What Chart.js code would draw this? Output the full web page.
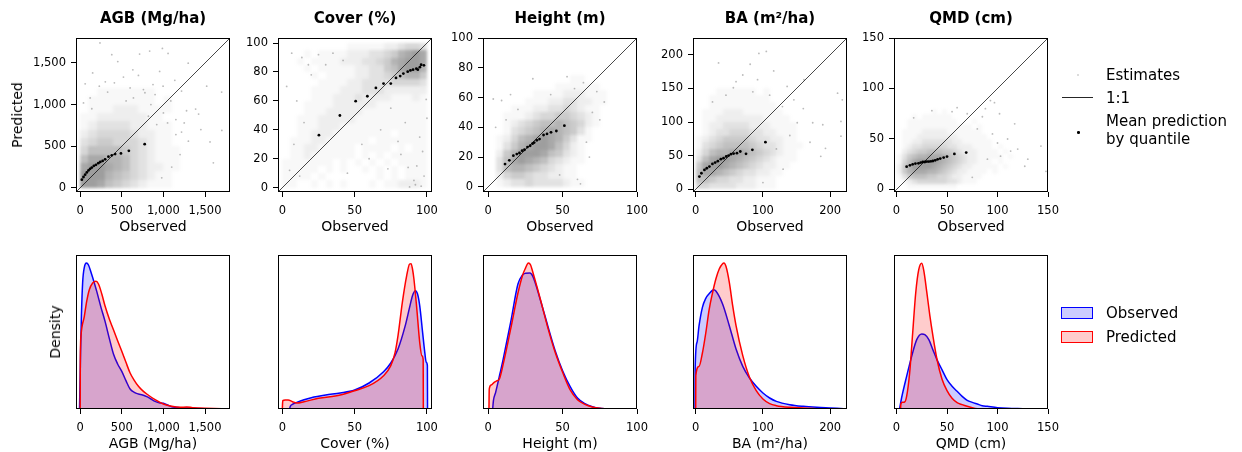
<!DOCTYPE html>
<html><head><meta charset="utf-8">
<script src="https://cdn.jsdelivr.net/npm/chart.js@4/dist/chart.umd.min.js"></script>
<style>
html,body{margin:0;padding:0;background:#fff;}
#wrap{position:relative;width:1242px;height:452px;overflow:hidden;font-family:"DejaVu Sans",sans-serif;color:#000;}
canvas{position:absolute;}
.c{position:absolute;white-space:nowrap;transform:translate(-50%,-50%);}
.l{position:absolute;white-space:nowrap;transform:translate(0,-50%);font-size:15px;}
.title{font-weight:bold;font-size:15px;}
.ax{font-size:14px;}
</style></head><body><div id="wrap"></div>
<script>
// ---------------- DATA ----------------
const VARIABLES = ['AGB (Mg/ha)','Cover (%)','Height (m)','BA (m²/ha)','QMD (cm)'];

// axis limits (observed = predicted range, 1:1 line spans them)
const AGB_LIM = [-50, 1800];
const COVER_LIM = [-3, 103.5];
const HEIGHT_LIM = [-3.5, 100];
const BA_LIM = [-4, 225];
const QMD_LIM = [-2.5, 150];

// tick labels
const AGB_TICKS = [0, 500, 1000, 1500];
const COVER_XTICKS = [0, 50, 100];
const COVER_YTICKS = [0, 20, 40, 60, 80, 100];
const HEIGHT_XTICKS = [0, 50, 100];
const HEIGHT_YTICKS = [0, 20, 40, 60, 80, 100];
const BA_XTICKS = [0, 100, 200];
const BA_YTICKS = [0, 50, 100, 150, 200];
const QMD_TICKS = [0, 50, 100, 150];

// mean prediction by quantile (observed, predicted)
const AGB_MEAN_OBS  = [20,40,60,80,100,120,140,165,190,218,242,270,300,340,380,420,490,585,775];
const AGB_MEAN_PRED = [98,130,158,185,209,229,244,264,276,296,311,323,343,374,390,406,414,445,524];
const COVER_MEAN_OBS  = [25.3,39.8,50.7,58.8,64.7,70,75,78.6,81.5,83.7,86.7,88.6,90.4,92.7,93.7,95.1,96,97.9];
const COVER_MEAN_PRED = [36.3,49.9,59.8,63.2,69,72,72,75.9,77.2,78.9,80.2,81.1,81.6,82.3,81.6,83.3,85,84.6];
const HEIGHT_MEAN_OBS  = [11.3,14.2,16.9,19.2,21,22.8,24.4,26.4,28.2,29.8,30.9,32.7,34.5,37.2,39.5,42.2,45.8,51.2];
const HEIGHT_MEAN_PRED = [15.3,17.8,20.9,22,22.7,24.3,24.9,26.7,27.6,29,29.7,31.2,32.1,34.8,35.5,36.6,37.5,41.1];
const BA_MEAN_OBS  = [5.5,8.5,13,16.5,20.4,24.9,28.9,32.9,37.4,41.4,45.4,48.9,52.4,56.4,61.3,66.3,74.8,84.3,103.7];
const BA_MEAN_PRED = [18.9,23.9,28.9,31.3,33.8,37.8,39.8,41.8,44.8,46.3,48.8,50.2,52.2,53.2,53.7,56.2,52.7,58.7,70.1];
const QMD_MEAN_OBS  = [10,13.3,16,18.7,21.7,24,26,28,30,32,34,36,38.3,40.7,43.3,46.7,50,57.3,69];
const QMD_MEAN_PRED = [22.6,23.9,24.9,25.6,25.9,26.6,27.2,27.2,27.6,27.6,27.9,28.2,28.9,29.9,30.6,31.6,32.6,35.2,36.5];

// isolated estimates visible outside the dense cloud [observed, predicted]
const AGB_SPARSE = [[238,1741],[411,1261],[302,1273],[714,1607],[835,1643],[988,1675],[1056,1615],[1298,1497],[996,1221],[1218,1162],[1387,946],[1560,552],[1702,690],[1137,1292],[633,1418],[552,1044],[875,1241],[230,1221],[452,1517],[1423,886],[1218,670],[1520,1221],[955,1399],[778,1142],[1089,1044],[1278,926],[60,1250],[150,1380],[380,1600],[700,1350],[1150,820],[1000,900],[920,760],[1300,560],[1450,700],[1700,1150],[1600,300],[1200,400],[980,120],[1100,250],[850,1000],[600,1200],[120,1080],[330,1150],[520,1330],[760,1180],[640,1080],[900,1120],[1050,780],[1150,640],[1250,780],[820,860],[140,950],[40,1020]];
const COVER_SPARSE = [[6.5,93],[13.5,90],[80,32],[87,14],[91,5],[73,13],[82,23],[100,48],[99.5,61],[3,70],[10,60],[20,78],[30,85],[15,45],[8,30],[60,20],[45,10],[95,35],[97,25],[92,2],[96,1],[88,0.5],[25,92],[35,93],[18,85],[42,88],[5,12],[12,8],[55,30],[68,40],[75,55],[85,45],[93,15],[98,8]];
const HEIGHT_SPARSE = [[30,72.6],[53,74],[64,70],[78,57],[73,64],[15,62],[9,58],[3.4,59],[70,50],[75,45],[5,40],[60,5],[62,2],[48,8],[68,20],[42,62],[58,66],[20,52],[12,45],[66,30]];
const BA_SPARSE = [[34,188],[105,205],[94,202],[81,186],[116,176],[92,163],[56,151],[136,153],[161,163],[211,143],[218,133],[189,96],[216,79],[174,99],[151,99],[193,61],[186,49],[216,101],[129,123],[146,133],[70,170],[45,140],[120,60],[140,80],[160,120],[100,10],[130,30],[60,160],[85,145],[110,140],[25,130],[170,70]];
const QMD_SPARSE = [[93,88],[97,86],[88,80],[102,75],[117,65],[110,50],[100,46],[127,23],[143,43],[148,18],[60,81],[35,78],[17,71],[103,33],[113,38],[80,60],[90,30],[120,40],[75,12],[85,72],[70,75],[55,77],[95,55],[130,30]];

// density of estimates (0-9), rows from top (highest predicted) to bottom
const AGB_CLOUD = [ // cells of 100 x 100, from 0
 "0011111110000",
 "0111111110100",
 "0111222111100",
 "1122222211000",
 "1233332211100",
 "2344443221100",
 "3455444321100",
 "4666654321110",
 "6887764321110",
 "8998764322110",
 "9997654321100",
 "9986543211100"];
const COVER_CLOUD = [ // cells of 5 x 5, from 0
 "00000000011111223443",
 "00010111122233457898",
 "00101111222334578998",
 "00010111112233568997",
 "00001011112233456775",
 "00000111122333344443",
 "00001111222333222222",
 "00001112223222211121",
 "00011112222221111111",
 "00011122222111111111",
 "00111222221111111111",
 "00111222111111111111",
 "00112221111111101111",
 "01112211111101111111",
 "01122111110111101011",
 "01121111110101011111",
 "11111110101010101111",
 "11111010100101010111",
 "11110100000001010111",
 "11001010100010112221"];
const HEIGHT_CLOUD = [ // cells of 5 x 5, from 0
 "0000000000011000",
 "0000000001111110",
 "0000001111222111",
 "0000011122332211",
 "0001112233432110",
 "0011123445543210",
 "0012345667654210",
 "0013456787653100",
 "0124678987531100",
 "0135789986421000",
 "0257999865321000",
 "0368987643211000",
 "0367765432110000",
 "0245543322110000",
 "0123343333211000"];
const BA_CLOUD = [ // cells of 10 x 10, from 0
 "0001111110100000",
 "0011111111100000",
 "0011111111110000",
 "0111222111111000",
 "0112222222111100",
 "0122333322211110",
 "0123344433221110",
 "1234555543322110",
 "1345666654332111",
 "2467788765432110",
 "3689987654321110",
 "5899876543221100",
 "6887654332211000",
 "6654433221110000",
 "4433332221110000"];
const QMD_CLOUD = [ // cells of 5 x 5, from 0
 "00000001010000000000000000",
 "00010111111000000000000000",
 "00111111111100010000000000",
 "00111111111111101000000000",
 "01111222221111111000000000",
 "01112222222211111100000000",
 "01122333333221111110000000",
 "01233444443322211110100000",
 "02345566655432221111010000",
 "13567788876543221111101000",
 "14689999876543221110100000",
 "25799998765432211111010000",
 "25788877654322111101000000",
 "13566655443221111000000000",
 "01234444443321110000000000",
 "00111111111100000000000000"];

// kernel density curves [value, relative density]
const AGB_KDE_OBS = [[-8,0],[0,100],[5,170],[15,280],[30,380],[50,425],[75,438],[100,432],[130,410],[170,378],[200,352],[250,305],[300,262],[350,212],[400,165],[450,135],[500,113],[550,85],[600,60],[650,50],[700,45],[750,42],[800,37],[850,30],[900,23],[950,19],[1000,17],[1050,12],[1100,7],[1200,4],[1300,3],[1500,1],[1750,0]];
const AGB_KDE_PRED = [[0,0],[2,150],[10,220],[50,278],[80,325],[110,358],[150,378],[190,383],[220,375],[260,345],[300,308],[350,270],[400,238],[450,205],[500,173],[550,140],[600,108],[650,86],[700,68],[750,55],[800,45],[900,28],[1000,15],[1100,8],[1200,5],[1280,6],[1350,4],[1500,2],[1700,1],[1780,0]];
const COVER_KDE_OBS = [[5,0],[5.5,8],[7,14],[10,20],[15,28],[20,34],[30,42],[40,48],[50,57],[60,78],[70,112],[75,138],[80,180],[85,250],[88,305],[90,340],[92,355],[93.5,345],[95,310],[97,230],[98.5,170],[99.5,140],[100.3,130],[100.4,0]];
const COVER_KDE_PRED = [[0,0],[0.3,25],[2,27],[4,27],[7,22],[10,18],[15,22],[25,32],[40,42],[50,55],[60,70],[70,100],[75,130],[78,170],[80,220],[83,320],[86,400],[88,435],[89,436],[90,420],[91,390],[93,300],[95,200],[96.5,160],[97.4,148],[97.5,0]];
const HEIGHT_KDE_OBS = [[3,0],[3.5,25],[5,50],[8,108],[10,148],[15,258],[20,375],[23,402],[25,407],[28,408],[30,398],[35,328],[40,250],[45,175],[50,115],[55,68],[60,33],[65,16],[70,7],[75,2],[80,0]];
const HEIGHT_KDE_PRED = [[0.5,0],[0.7,60],[2,72],[4,80],[6,85],[7.5,90],[10,133],[15,238],[20,348],[23,400],[25,422],[27,438],[28.5,432],[30,410],[35,330],[40,245],[45,170],[50,110],[55,58],[60,28],[65,14],[70,6],[75,2],[80,0]];
const BA_KDE_OBS = [[-1,0],[-0.8,120],[2,200],[5,250],[10,305],[15,332],[20,346],[27,358],[30,354],[40,315],[50,250],[60,180],[70,128],[80,93],[90,68],[100,48],[110,33],[120,23],[140,13],[160,8],[180,5],[200,3],[220,1]];
const BA_KDE_PRED = [[0,0],[0.2,100],[5,128],[10,168],[15,228],[20,298],[25,348],[30,390],[35,420],[40,436],[42,438],[45,428],[50,380],[55,310],[60,250],[70,160],[80,95],[90,55],[100,30],[110,16],[120,10],[140,5],[160,3],[180,1],[200,0]];
const QMD_KDE_OBS = [[3,0],[5,33],[10,98],[15,158],[20,208],[25,225],[28,223],[32,208],[36,178],[40,148],[45,118],[50,88],[55,68],[60,53],[65,38],[70,26],[75,20],[80,15],[85,10],[90,8],[100,4],[110,2],[125,1],[140,0]];
const QMD_KDE_PRED = [[4,0],[4.3,15],[6,20],[8,21],[10,38],[13,108],[16,228],[19,348],[22,418],[25,437],[27,415],[30,350],[33,280],[36,220],[40,150],[45,90],[50,55],[55,32],[60,19],[65,13],[70,8],[75,4],[80,1],[85,0]];
const KDE_TOP = 462;

// ---------------- LAYOUT / STYLE ----------------
const BOX_LEFT = [76, 278, 483, 693, 894];
const BOX_W = 154;
const TOP_ROW = {top: 38, bottom: 192, canvasTop: 0, canvasH: 240};
const BOT_ROW = {top: 255, bottom: 409, canvasTop: 240, canvasH: 212};
const Y_AXIS_W = 64, X_AXIS_H = 30, PAD_R = 20;
const TICK_FONT = 11.5;
const CLOUD_ALPHA = [0, 0.05, 0.12, 0.2, 0.28, 0.36, 0.44, 0.52, 0.6, 0.68];

Chart.defaults.font.family = "'DejaVu Sans', sans-serif";
Chart.defaults.font.size = TICK_FONT;
Chart.defaults.color = '#000';
Chart.defaults.animation = false;

const fmtComma = v => Number(v).toLocaleString('en-US');
const fmtPlain = v => String(v);

const PANELS = [
  {lim: AGB_LIM, xt: AGB_TICKS, yt: AGB_TICKS, fmt: fmtComma, mo: AGB_MEAN_OBS, mp: AGB_MEAN_PRED, sparse: AGB_SPARSE, cloud: {rows: AGB_CLOUD, d: 100}, ko: AGB_KDE_OBS, kp: AGB_KDE_PRED},
  {lim: COVER_LIM, xt: COVER_XTICKS, yt: COVER_YTICKS, fmt: fmtPlain, mo: COVER_MEAN_OBS, mp: COVER_MEAN_PRED, sparse: COVER_SPARSE, cloud: {rows: COVER_CLOUD, d: 5}, ko: COVER_KDE_OBS, kp: COVER_KDE_PRED},
  {lim: HEIGHT_LIM, xt: HEIGHT_XTICKS, yt: HEIGHT_YTICKS, fmt: fmtPlain, mo: HEIGHT_MEAN_OBS, mp: HEIGHT_MEAN_PRED, sparse: HEIGHT_SPARSE, cloud: {rows: HEIGHT_CLOUD, d: 5}, ko: HEIGHT_KDE_OBS, kp: HEIGHT_KDE_PRED},
  {lim: BA_LIM, xt: BA_XTICKS, yt: BA_YTICKS, fmt: fmtPlain, mo: BA_MEAN_OBS, mp: BA_MEAN_PRED, sparse: BA_SPARSE, cloud: {rows: BA_CLOUD, d: 10}, ko: BA_KDE_OBS, kp: BA_KDE_PRED},
  {lim: QMD_LIM, xt: QMD_TICKS, yt: QMD_TICKS, fmt: fmtPlain, mo: QMD_MEAN_OBS, mp: QMD_MEAN_PRED, sparse: QMD_SPARSE, cloud: {rows: QMD_CLOUD, d: 5}, ko: QMD_KDE_OBS, kp: QMD_KDE_PRED}
];

const wrap = document.getElementById('wrap');
function addText(cls, text, x, y, extra) {
  const d = document.createElement('div');
  d.className = cls; d.textContent = text;
  d.style.left = x + 'px'; d.style.top = y + 'px';
  if (extra) Object.assign(d.style, extra);
  wrap.appendChild(d); return d;
}
function addBox(x, y, w, h, style) {
  const d = document.createElement('div');
  Object.assign(d.style, {position: 'absolute', left: x + 'px', top: y + 'px', width: w + 'px', height: h + 'px', boxSizing: 'border-box'}, style);
  wrap.appendChild(d); return d;
}
function mkCanvas(left, top, w, h) {
  const c = document.createElement('canvas');
  c.width = w; c.height = h;
  Object.assign(c.style, {left: left + 'px', top: top + 'px', width: w + 'px', height: h + 'px'});
  wrap.appendChild(c); return c;
}

const framePlugin = {
  id: 'frame',
  afterDatasetsDraw(chart) {
    const {ctx, chartArea: a} = chart;
    ctx.save(); ctx.strokeStyle = '#000'; ctx.lineWidth = 1;
    ctx.strokeRect(a.left + 0.5, a.top + 0.5, a.right - a.left - 1, a.bottom - a.top - 1);
    ctx.restore();
  }
};

function cloudPlugin(cloud) {
  return {
    id: 'cloud',
    beforeDatasetsDraw(chart) {
      const {ctx, chartArea: a, scales: {x, y}} = chart;
      const off = document.createElement('canvas');
      off.width = chart.width; off.height = chart.height;
      const o = off.getContext('2d');
      const n = cloud.rows.length, d = cloud.d;
      cloud.rows.forEach((row, r) => {
        const yb = (n - 1 - r) * d;
        for (let c = 0; c < row.length; c++) {
          const lv = +row[c]; if (!lv) continue;
          const xl = c * d;
          const px0 = Math.round(x.getPixelForValue(xl)), px1 = Math.round(x.getPixelForValue(xl + d));
          const py0 = Math.round(y.getPixelForValue(yb + d)), py1 = Math.round(y.getPixelForValue(yb));
          o.fillStyle = 'rgba(112,112,112,' + CLOUD_ALPHA[lv] + ')';
          o.fillRect(px0, py0, px1 - px0, py1 - py0);
        }
      });
      ctx.save();
      ctx.beginPath(); ctx.rect(a.left, a.top, a.right - a.left, a.bottom - a.top); ctx.clip();
      ctx.filter = 'blur(1.8px)';
      ctx.drawImage(off, 0, 0);
      ctx.restore();
    }
  };
}

function xScale(p, showLabels) {
  return {
    type: 'linear', min: p.lim[0], max: p.lim[1],
    afterBuildTicks: s => { s.ticks = p.xt.map(v => ({value: v})); },
    afterFit: s => { s.height = X_AXIS_H; },
    border: {display: false},
    grid: {drawOnChartArea: false, drawTicks: true, tickLength: 5, color: '#000', lineWidth: 1},
    ticks: {display: showLabels, autoSkip: false, maxRotation: 0, minRotation: 0, padding: 7, color: '#000', font: {size: TICK_FONT}, callback: v => p.fmt(v)}
  };
}
function yScaleScatter(p) {
  return {
    type: 'linear', min: p.lim[0], max: p.lim[1],
    afterBuildTicks: s => { s.ticks = p.yt.map(v => ({value: v})); },
    afterFit: s => { s.width = Y_AXIS_W; },
    border: {display: false},
    grid: {drawOnChartArea: false, drawTicks: true, tickLength: 5, color: '#000', lineWidth: 1},
    ticks: {autoSkip: false, padding: 5, color: '#000', font: {size: TICK_FONT}, callback: v => p.fmt(v)}
  };
}
function yScaleDensity() {
  return {
    type: 'linear', min: 0, max: KDE_TOP,
    afterFit: s => { s.width = Y_AXIS_W; },
    border: {display: false},
    grid: {display: false, drawTicks: false},
    ticks: {display: false}
  };
}
const toXY = pairs => pairs.map(([x, y]) => ({x, y}));

PANELS.forEach((p, i) => {
  const L = BOX_LEFT[i];
  const cw = Y_AXIS_W + BOX_W + PAD_R;
  // --- scatter (top row)
  const c1 = mkCanvas(L - Y_AXIS_W, TOP_ROW.canvasTop, cw, TOP_ROW.canvasH);
  new Chart(c1, {
    type: 'scatter',
    data: {datasets: [
      {label: 'Mean prediction by quantile', data: p.mo.map((v, k) => ({x: v, y: p.mp[k]})), backgroundColor: '#000', borderWidth: 0, pointRadius: 1.4},
      {label: '1:1', data: [{x: p.lim[0], y: p.lim[0]}, {x: p.lim[1], y: p.lim[1]}], showLine: true, borderColor: 'rgba(0,0,0,0.9)', borderWidth: 0.8, pointRadius: 0},
      {label: 'Estimates', data: toXY(p.sparse), backgroundColor: 'rgba(120,120,120,0.5)', borderWidth: 0, pointRadius: 0.9}
    ]},
    options: {
      responsive: false, devicePixelRatio: 1, animation: false,
      layout: {padding: {left: 0, right: PAD_R, top: TOP_ROW.top - TOP_ROW.canvasTop, bottom: TOP_ROW.canvasH - (TOP_ROW.bottom - TOP_ROW.canvasTop) - X_AXIS_H}},
      plugins: {legend: {display: false}, tooltip: {enabled: false}},
      scales: {x: xScale(p, true), y: yScaleScatter(p)}
    },
    plugins: [cloudPlugin(p.cloud), framePlugin]
  });
  // --- density (bottom row)
  const c2 = mkCanvas(L - Y_AXIS_W, BOT_ROW.canvasTop, cw, BOT_ROW.canvasH);
  new Chart(c2, {
    type: 'line',
    data: {datasets: [
      {label: 'Predicted', data: toXY(p.kp), borderColor: '#ff0000', backgroundColor: 'rgba(255,0,0,0.2)', fill: 'origin', borderWidth: 1.5, pointRadius: 0, cubicInterpolationMode: 'monotone'},
      {label: 'Observed', data: toXY(p.ko), borderColor: '#0000ff', backgroundColor: 'rgba(0,0,255,0.2)', fill: 'origin', borderWidth: 1.5, pointRadius: 0, cubicInterpolationMode: 'monotone'}
    ]},
    options: {
      responsive: false, devicePixelRatio: 1, animation: false, parsing: true,
      layout: {padding: {left: 0, right: PAD_R, top: BOT_ROW.top - BOT_ROW.canvasTop, bottom: BOT_ROW.canvasH - (BOT_ROW.bottom - BOT_ROW.canvasTop) - X_AXIS_H}},
      plugins: {legend: {display: false}, tooltip: {enabled: false}},
      scales: {x: xScale(p, true), y: yScaleDensity()}
    },
    plugins: [framePlugin]
  });
  // --- texts
  const cx = L + BOX_W / 2;
  addText('c title', VARIABLES[i], cx, 18);
  addText('c ax', 'Observed', cx, 226);
  addText('c ax', VARIABLES[i], cx, 443);
});

addText('c ax', 'Predicted', 17, 115, {transform: 'translate(-50%,-50%) rotate(-90deg)'});
addText('c ax', 'Density', 55, 332, {transform: 'translate(-50%,-50%) rotate(-90deg)'});

// legends
addBox(1077, 74, 2, 2, {background: 'rgba(120,120,120,0.35)', borderRadius: '50%'});
addText('l', 'Estimates', 1106, 75);
addBox(1062, 97, 31, 1, {background: 'rgba(0,0,0,0.85)'});
addText('l', '1:1', 1106, 97.5);
addBox(1077, 131, 2.6, 2.6, {background: '#000', borderRadius: '50%'});
addText('l', 'Mean prediction', 1106, 121);
addText('l', 'by quantile', 1106, 139);

addBox(1061, 307, 32, 12, {background: 'rgba(0,0,255,0.2)', border: '1.5px solid #0000ff'});
addText('l', 'Observed', 1106, 313);
addBox(1061, 330.5, 32, 12, {background: 'rgba(255,0,0,0.2)', border: '1.5px solid #ff0000'});
addText('l', 'Predicted', 1106, 336.5);
</script>
</body></html>
